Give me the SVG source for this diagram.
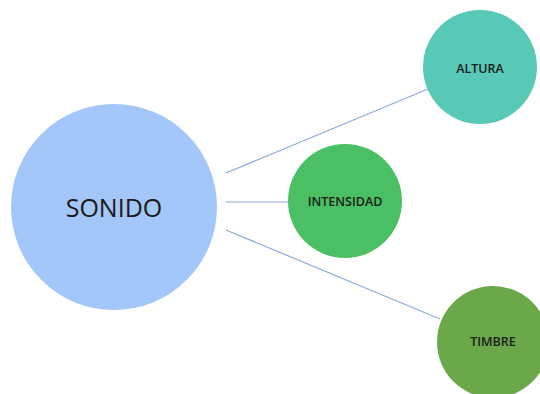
<svg xmlns="http://www.w3.org/2000/svg" width="540" height="394" viewBox="0 0 540 394">
  <style>
    .link { stroke: #8eaadb; stroke-width: 1.2; fill: none; }
    .lbl { font-family: "Open Sans", "Liberation Sans", sans-serif; fill: #1a1a1a; text-anchor: middle; dominant-baseline: central; }
    .small { font-size: 12.5px; font-weight: 600; }
    .big { font-size: 25px; }
  </style>
  <rect width="540" height="394" fill="#ffffff"/>
  <g id="connectors">
    <line class="link" x1="226" y1="173" x2="428" y2="89"/>
    <line class="link" x1="226" y1="202" x2="289" y2="202"/>
    <line class="link" x1="226" y1="230" x2="440" y2="319"/>
  </g>
  <g id="sonido">
    <circle cx="114" cy="207" r="103" fill="#a3c7f8"/>
    <text class="lbl big" x="114" y="207">SONIDO</text>
  </g>
  <g id="altura">
    <circle cx="480" cy="67" r="57" fill="#57c9b6"/>
    <text class="lbl small" x="480" y="68">ALTURA</text>
  </g>
  <g id="intensidad">
    <circle cx="345" cy="201" r="57" fill="#4abf63"/>
    <text class="lbl small" x="345" y="201">INTENSIDAD</text>
  </g>
  <g id="timbre">
    <circle cx="493" cy="342" r="56" fill="#6aa84a"/>
    <text class="lbl small" x="493" y="341">TIMBRE</text>
  </g>
</svg>
